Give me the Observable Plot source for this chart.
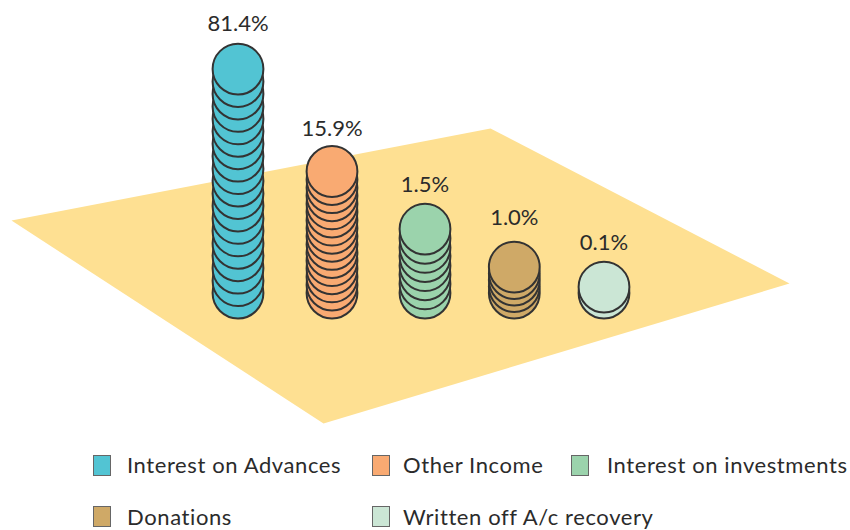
<!DOCTYPE html>
<html><head><meta charset="utf-8">
<script src="https://cdn.jsdelivr.net/npm/d3@7"></script>
<script src="https://cdn.jsdelivr.net/npm/@observablehq/plot@0.6"></script>
<style>
html,body{margin:0;padding:0;background:#fff;width:850px;height:530px;overflow:hidden}
#chart{position:relative;width:850px;height:530px}
#legend{position:absolute;left:0;top:440px;width:850px;height:90px;font:22px Lato,sans-serif;letter-spacing:0.6px;color:#2b2b2b}
.it{position:absolute;white-space:nowrap;line-height:26px}
.sw{position:absolute;width:16px;height:19px;border:1px solid #666;box-sizing:content-box}
</style></head><body><div id="chart"></div>
<script>
const categories = ["Interest on Advances","Other Income","Interest on investments","Donations","Written off A/c recovery"];
const shares = [81.4,15.9,1.5,1.0,0.1];
const shareLabels = ["81.4%","15.9%","1.5%","1.0%","0.1%"];
const colors = ["#52c4d3","#f9aa72","#9bd3ac","#cfa967","#cbe6d5"];
const coinCounts = [19,16,8,5,2];
const coinX = [237.5,331.5,424.5,513.8,603.5];
const coinTopY = [68.6,171,228.6,266.6,286.6];
const coinBaseY = 292.6;
const labelY = [23,128,184,217,242];
const planeX = [11,490,789,323];
const planeY = [220,128,283,423];

const coins = categories.flatMap((c,k)=>d3.range(coinCounts[k]).map(i=>({
  c, x:coinX[k],
  y:coinBaseY-(coinCounts[k]>1?i*(coinBaseY-coinTopY[k])/(coinCounts[k]-1):0)
})));
const plane = planeX.map((x,i)=>({x,y:planeY[i]}));
const labels = categories.map((c,k)=>({x:coinX[k],y:labelY[k],t:shareLabels[k]}));

const plot = Plot.plot({
  width:850,height:440,margin:0,
  x:{domain:[0,850],range:[0,850],axis:null},
  y:{domain:[0,440],range:[0,440],axis:null},
  color:{domain:categories,range:colors},
  marks:[
    Plot.geo([{type:"Polygon",coordinates:[[...plane,plane[0]].map(d=>[d.x,d.y])]}],{fill:"#fee092",stroke:"none"}),
    Plot.dot(coins,{x:"x",y:"y",r:25.4,fill:"c",stroke:"#333",strokeWidth:2}),
    Plot.text(labels,{x:"x",y:"y",text:"t",fontSize:22,fontFamily:"Lato",fill:"#2b2b2b",style:{letterSpacing:"0.3px"}})
  ]
});
document.getElementById("chart").append(plot);

const legend=document.createElement("div");legend.id="legend";
const pos=[[93,15,127,12],[372,15,403,12],[571,15,607,12],[93,66,127,64],[372,66,403,64]];
categories.forEach((c,i)=>{
  const [sx,sy,tx,ty]=pos[i];
  const s=document.createElement("div");s.className="sw";s.style.cssText=`left:${sx}px;top:${sy}px;background:${colors[i]}`;
  const t=document.createElement("div");t.className="it";t.textContent=c;t.style.cssText=`left:${tx}px;top:${ty}px`;
  legend.append(s,t);
});
document.getElementById("chart").append(legend);
</script></body></html>
